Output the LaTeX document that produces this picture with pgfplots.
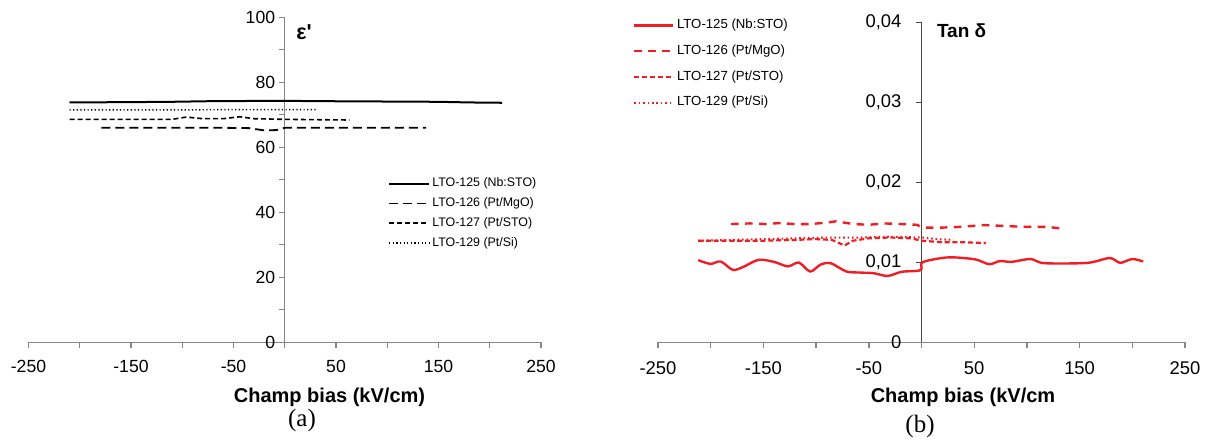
\documentclass[border=0pt]{standalone}
\usepackage{pgfplots}
\pgfplotsset{compat=1.18}
\usepackage{fontspec}
\setmainfont{Liberation Sans}
\newfontfamily\nomap{Liberation Sans}[Ligatures=ResetAll]
\newfontfamily\timesfont{Liberation Serif}
\definecolor{myred}{RGB}{238,30,36}
\definecolor{axgray}{RGB}{135,135,135}
\definecolor{axdark}{RGB}{70,70,70}

\begin{document}
\begin{tikzpicture}[x=1pt,y=1pt]
\path[use as bounding box] (0,0) rectangle (604.5,222.5);

% ---------------- (a) permittivity ----------------
\begin{axis}[
  at={(14.25pt,51.35pt)}, anchor=south west, scale only axis,
  width=256.25pt, height=162.5pt,
  xmin=-250, xmax=250, ymin=0, ymax=100,
  axis lines=middle, axis line style={-, axgray, line width=0.6pt},
  xtick={-250,-150,...,250}, minor xtick={-200,-100,0,100,200},
  xticklabels={-250,-150,-50,50,150,250},
  ytick={0,20,...,100}, minor ytick={10,30,...,90},
  tick align=outside, major tick length=2.8pt, minor tick length=2.8pt,
  tick style={axgray, line width=0.6pt},
  hide obscured x ticks=false, hide obscured y ticks=false,
  ticklabel style={font=\fontsize{8.8}{10}\selectfont, text=black},
  xticklabel style={yshift=-2.5pt},
  yticklabel style={xshift=1.5pt},
  /pgf/number format/assume math mode=true,
  legend cell align=left,
  legend image code/.code={\draw (0pt,0pt) -- (20pt,0pt);},
  legend style={at={(0.702,0.5065)}, anchor=north west, draw=none, fill=none,
    inner sep=0pt, outer sep=0pt, font=\fontsize{6.2}{7}\selectfont,
    row sep=3.9pt, column sep=1pt, nodes={inner sep=0pt}},
]
\addplot[black, line width=1pt] coordinates {
(-210,73.8) (-150,73.9) (-110,74.0) (-70,74.2) (0,74.3) (30,74.2) (150,74.0) (180,73.8) (212,73.7)};
\addlegendentry{LTO-125 (Nb:STO)}
\addplot[black, line width=0.9pt, dash pattern=on 4.5pt off 2.5pt] coordinates {
(-179,66.0) (-150,66.0) (-100,66.0) (-60,66.0) (-35,65.9) (-20,65.2) (-8,65.3) (0,66.0) (50,66.0) (100,66.0) (138,66.0)};
\addlegendentry{LTO-126 (Pt/MgO)}
\addplot[black, line width=0.8pt, dash pattern=on 2.5pt off 1.5pt] coordinates {
(-210,68.6) (-150,68.6) (-110,68.6) (-96,69.3) (-80,68.8) (-60,68.8) (-44,69.4) (-30,68.8) (0,68.6) (30,68.5) (63,68.4)};
\addlegendentry{LTO-127 (Pt/STO)}
\addplot[black, line width=0.7pt, dash pattern=on 0.6pt off 1.2pt] coordinates {
(-210,71.5) (-150,71.5) (-100,71.5) (-50,71.6) (0,71.6) (30,71.6)};
\addlegendentry{LTO-129 (Pt/Si)}
\end{axis}

% ---------------- (b) tan delta ----------------
\begin{axis}[
  at={(329pt,51.35pt)}, anchor=south west, scale only axis,
  width=263.5pt, height=160pt,
  xmin=-250, xmax=250, ymin=0, ymax=0.04,
  axis lines=middle, axis line style={-},
  x axis line style={axgray, line width=0.8pt},
  y axis line style={axdark, line width=0.6pt},
  xtick={-250,-150,...,250}, minor xtick={-200,-100,0,100,200},
  xticklabels={-250,-150,-50,50,150,250},
  ytick={0,0.01,0.02,0.03,0.04}, scaled y ticks=false,
  /pgf/number format/fixed, /pgf/number format/precision=2,
  /pgf/number format/use comma,
  tick align=outside, major tick length=3pt, minor tick length=3pt,
  xtick style={axgray, line width=0.7pt},
  ytick style={axdark, line width=0.6pt},
  hide obscured x ticks=false, hide obscured y ticks=false,
  ticklabel style={font=\fontsize{9.2}{10}\selectfont, text=black},
  xticklabel style={yshift=-3pt},
  yticklabel style={xshift=-3.5pt},
  /pgf/number format/assume math mode=true,
  legend cell align=left,
  legend image code/.code={\draw (0pt,0pt) -- (19.5pt,0pt);},
  legend style={at={(-0.047,1.01)}, anchor=north west, draw=none, fill=none,
    inner sep=0pt, outer sep=0pt, font=\fontsize{6.6}{7.5}\selectfont,
    row sep=6.6pt, column sep=1.2pt, nodes={inner sep=0pt}},
]
\addplot[myred, line width=1.2pt, smooth, tension=0.5] coordinates {
(-211.8,0.01027) (-200.3,0.00980) (-190.5,0.01010) (-179.1,0.00906) (-169.3,0.00941)
(-154.6,0.01031) (-139.9,0.01005) (-126.8,0.00949) (-116.4,0.00997) (-105.6,0.00885)
(-95.8,0.00971) (-86.0,0.00988) (-71.3,0.00885) (-58.2,0.00872) (-45.1,0.00863)
(-32.1,0.00829) (-19.0,0.00881) (-1.0,0.00902) (0.6,0.00998) (16.9,0.01049)
(30.0,0.01062) (51.2,0.01036) (64.3,0.00976) (74.1,0.01015) (85.5,0.01006)
(103.5,0.01041) (116.6,0.00989) (157.4,0.00993) (178.6,0.01054) (188.4,0.00993)
(199.9,0.01041) (210.3,0.01010)};
\addlegendentry{LTO-125 (Nb:STO)}
\addplot[myred, line width=1.2pt, dash pattern=on 3.8pt off 3.2pt] coordinates {
(-180.7,0.01478) (-162.8,0.01486) (-148,0.01478) (-135,0.01490) (-120.3,0.01478)
(-105.6,0.01478) (-90.9,0.01495) (-81.1,0.01512) (-64.7,0.01478) (-50,0.01469)
(-35.3,0.01486) (-19,0.01478) (-4.3,0.01469) (0.6,0.01434) (20.2,0.01434)
(36.5,0.01443) (59.4,0.01465) (75.7,0.01456) (90.4,0.01447) (105.1,0.01443)
(119.8,0.01443) (132.9,0.01421)};
\addlegendentry{LTO-126 (Pt/MgO)}
\addplot[myred, line width=1.1pt, dash pattern=on 2.5pt off 1.4pt] coordinates {
(-212,0.0127) (-180,0.0127) (-150,0.0127) (-120,0.0128) (-100,0.0129) (-85,0.0128)
(-73,0.0121) (-65,0.0127) (-50,0.0130) (-30,0.0131) (-10,0.0130) (0,0.0127)
(20,0.0125) (40,0.0125) (61,0.0124)};
\addlegendentry{LTO-127 (Pt/STO)}
\addplot[myred, line width=1pt, dash pattern=on 0.8pt off 1.4pt] coordinates {
(-212,0.0127) (-180,0.0128) (-150,0.0129) (-120,0.0130) (-90,0.0131) (-60,0.0131)
(-30,0.0132) (0,0.0131) (15,0.0129) (30,0.0128)};
\addlegendentry{LTO-129 (Pt/Si)}
\end{axis}

% ---------------- texts ----------------
\node[anchor=base west, inner sep=0pt, font=\nomap\bfseries\fontsize{10.8}{12}\selectfont] at (148,202.9) {ε'};
\node[anchor=base west, inner sep=0pt, font=\bfseries\fontsize{9.5}{11}\selectfont] at (468.3,203.5) {Tan δ};
\node[inner sep=0pt, font=\bfseries\fontsize{10}{12}\selectfont] at (164.75,24) {Champ bias (kV/cm)};
\node[inner sep=0pt, font=\bfseries\fontsize{10}{12}\selectfont] at (481.5,23.75) {Champ bias (kV/cm};
\node[inner sep=0pt, font=\timesfont\fontsize{12.5}{14}\selectfont] at (151,12.5) {(a)};
\node[inner sep=0pt, font=\timesfont\fontsize{12.5}{14}\selectfont] at (460,9.5) {(b)};
\end{tikzpicture}
\end{document}
